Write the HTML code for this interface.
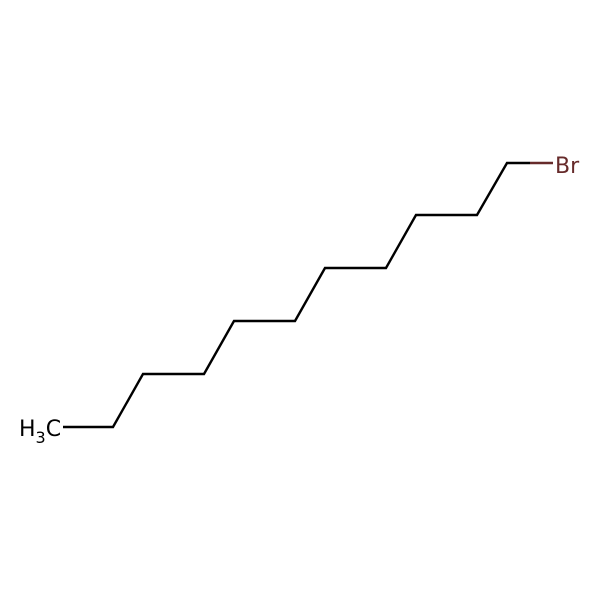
<!DOCTYPE html>
<html><head><meta charset="utf-8"><style>html,body{margin:0;padding:0;background:#fff}</style></head>
<body>
<svg width="600" height="600" viewBox="0 0 600 600" xmlns="http://www.w3.org/2000/svg">
<rect width="600" height="600" fill="#fff"/>
<polyline fill="none" stroke="#000" stroke-width="2.4" stroke-linejoin="miter"
 points="63,427 113,427 143,374 204,374 234,321 295,321 325,268 386,268 416,215 477,215 507,163 530,163"/>
<line x1="530" y1="163" x2="553" y2="163" stroke="#662a2a" stroke-width="2.4"/>
<text x="19" y="436" font-family="'DejaVu Sans','Liberation Sans',sans-serif" font-size="22" fill="#000">H<tspan font-size="16" dy="7">3</tspan><tspan dy="-7">C</tspan></text>
<text x="555" y="173" font-family="'DejaVu Sans','Liberation Sans',sans-serif" font-size="22" fill="#662a2a">Br</text>
</svg>
</body></html>
